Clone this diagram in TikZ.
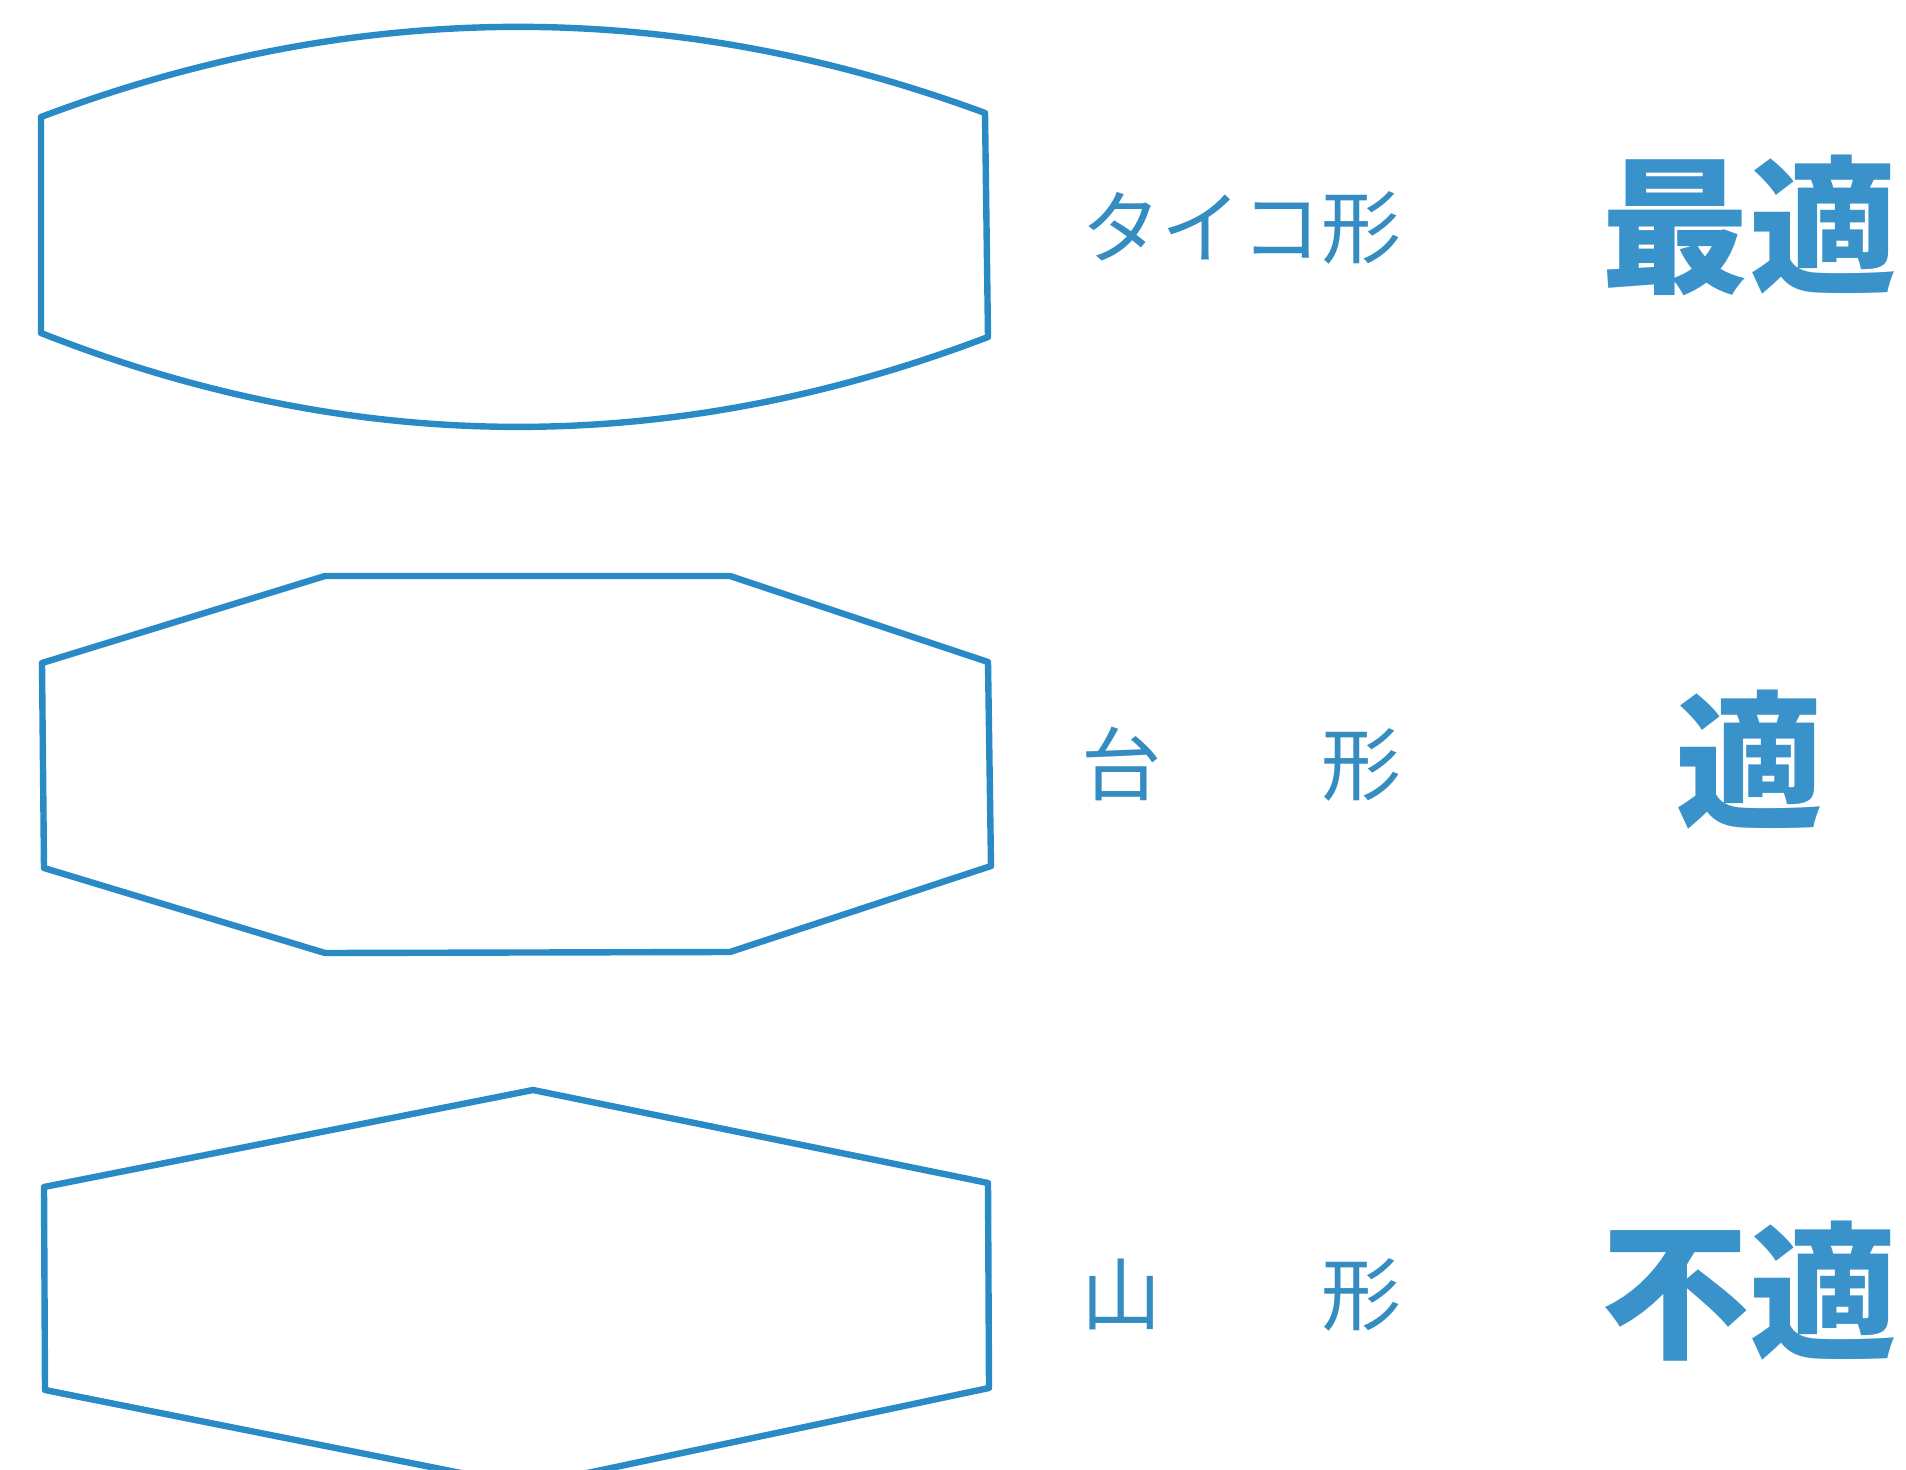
\documentclass[tikz,border=0pt]{standalone}
\usepackage{fontspec}
\newfontfamily\jp{Noto Sans CJK JP}
\definecolor{lineblue}{RGB}{42,138,198}
\definecolor{textblue}{RGB}{52,140,192}
\definecolor{boldblue}{RGB}{58,146,202}
\begin{document}
\begin{tikzpicture}[x=0.5pt,y=-0.5pt,
  outline/.style={draw=lineblue,line width=3.2pt,line join=round},
  label/.style={inner sep=0pt,anchor=west,text=textblue,font=\jp\fontsize{40pt}{40pt}\selectfont},
  verdict/.style={inner sep=0pt,anchor=center,text=boldblue,font=\jp\bfseries\fontsize{74pt}{74pt}\selectfont}]
\useasboundingbox (0,0) rectangle (1906,1470);
% Tycho shape
\draw[outline] (41,117) .. controls (356,-2) and (671,-3) .. (985,113)
  -- (988,337) .. controls (671,458) and (355,457) .. (41,333) -- cycle;
% trapezoid shape
\draw[outline] (42,663) -- (325,576) -- (730,576) -- (988,662)
  -- (991,866) -- (730,952) -- (325,953) -- (44,868) -- cycle;
% mountain shape
\draw[outline] (44,1187) -- (533,1090) -- (988,1183)
  -- (989,1388) -- (526,1486) -- (45,1390) -- cycle;
% labels
\node[label] (l1) at (1081,228) {タイコ形};
\node[label] (l2) at (1081,764) {台　　形};
\node[label] (l3) at (1081,1295) {山　　形};
\node[verdict] (v1) at (1749,225) {最適};
\node[verdict] (v2) at (1749,760) {適};
\node[verdict] (v3) at (1749,1291) {不適};
\end{tikzpicture}
\end{document}
